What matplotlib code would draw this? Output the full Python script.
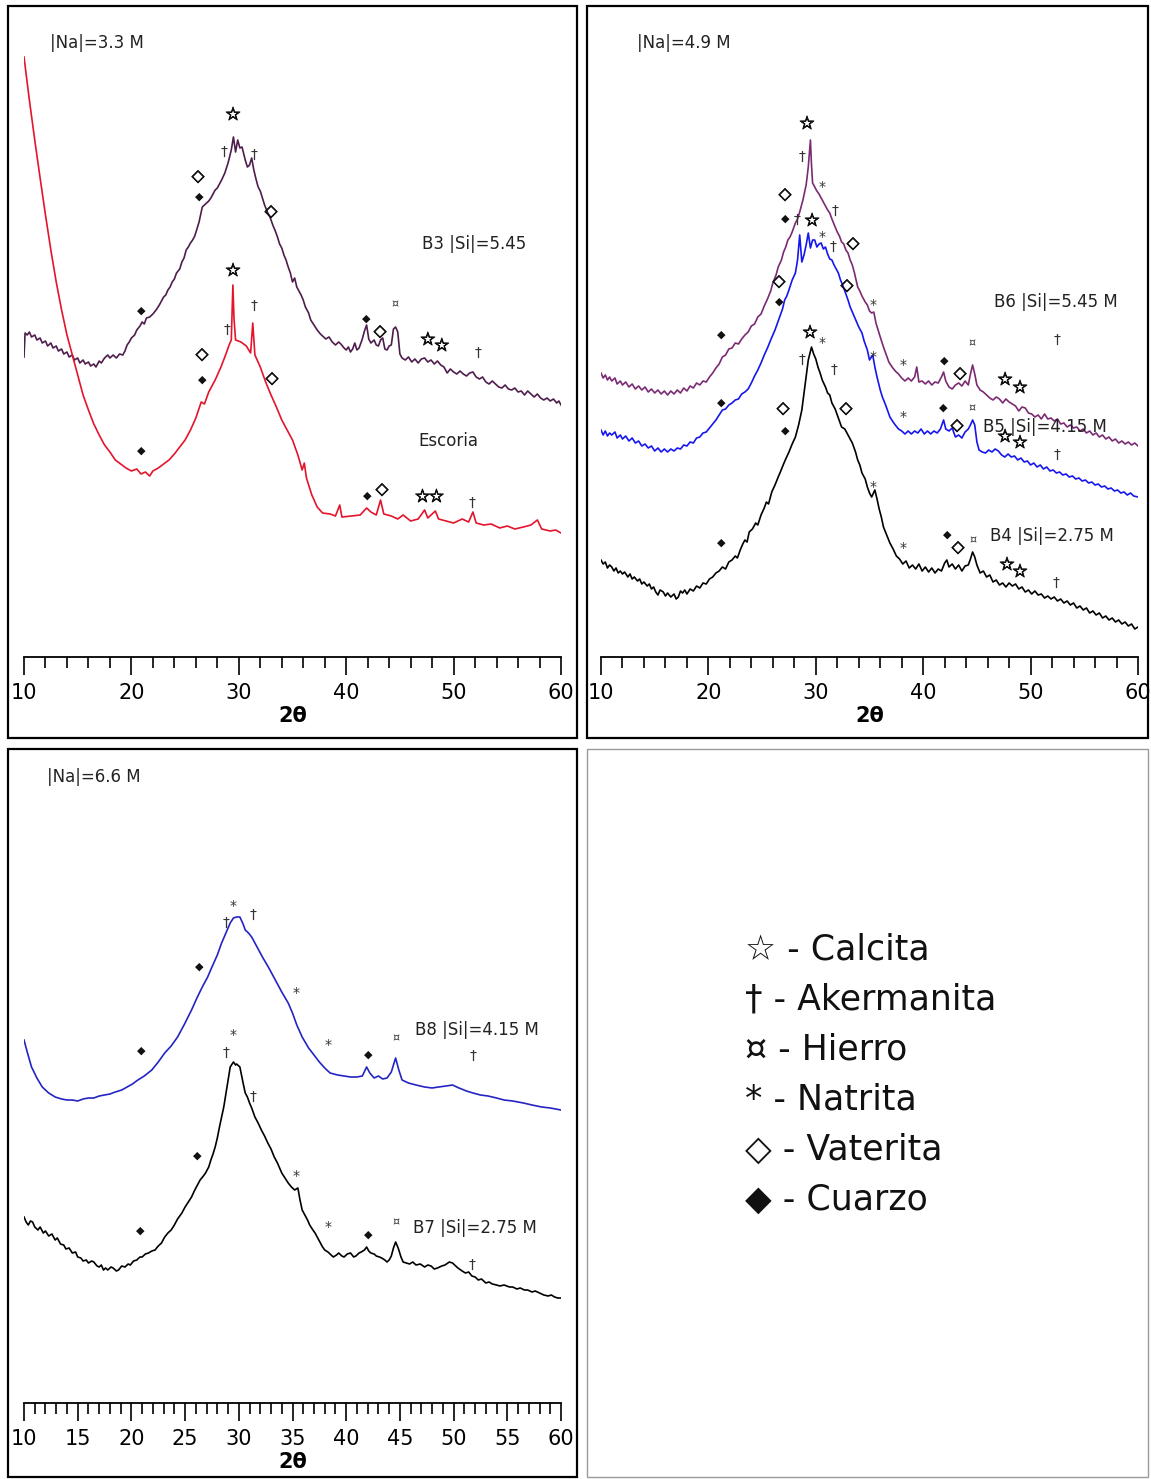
import matplotlib
matplotlib.use("Agg")
import matplotlib.pyplot as plt
import matplotlib.patheffects as pe
from matplotlib.patches import Rectangle
from matplotlib.ticker import MultipleLocator

plt.rcParams['font.family'] = ['DejaVu Sans']

# ---------------------------------------------------------------- data
# Diffractograms: (2-theta in degrees, intensity in arbitrary units)

# |Na| = 3.3 M panel
escoria = [(10, 600), (10.5, 557), (11, 517), (11.5, 479), (12, 442), (12.5, 407), (13, 375), (13.5, 347),
           (14, 322), (14.5, 302), (15, 282), (15.5, 262), (16, 247), (16.5, 233), (17, 222), (17.5, 212),
           (18, 205), (18.5, 197), (19, 193), (19.5, 189), (20, 186), (20.5, 188), (20.9, 183), (21.3, 185),
           (21.7, 181), (22.0, 186), (22.5, 189), (23, 193), (23.5, 197), (24, 203), (24.5, 210), (25, 217),
           (25.5, 227), (26, 239), (26.5, 255), (26.8, 253), (27.2, 265), (27.8, 277), (28.3, 289), (28.7, 300),
           (29.1, 312), (29.3, 317), (29.45, 372), (29.55, 339), (29.7, 317), (30.2, 315), (30.7, 311),
           (31.1, 304), (31.3, 334), (31.5, 302), (32, 290), (32.5, 275), (33, 262), (33.5, 250), (34, 237),
           (34.5, 227), (35, 217), (35.5, 202), (35.9, 187), (36.1, 194), (36.3, 179), (36.8, 162), (37.3, 150),
           (37.8, 144), (38.5, 143), (39.0, 141), (39.4, 152), (39.6, 140), (40.5, 141), (41.3, 142), (41.9, 149),
           (42.3, 145), (42.8, 142), (43.2, 157), (43.5, 143), (44.2, 141), (44.8, 138), (45.3, 142), (46, 136),
           (46.7, 138), (47.3, 147), (47.6, 139), (48.3, 146), (48.6, 138), (49.3, 136), (50, 134), (50.8, 138),
           (51.4, 135), (51.8, 145), (52.1, 134), (52.8, 132), (53.5, 133), (54.3, 129), (55, 131), (55.7, 128),
           (56.5, 130), (57.2, 132), (57.8, 137), (58.2, 128), (59, 126), (59.5, 127), (60, 124)]

b3 = [(10.0, 300), (10.1, 324), (10.3, 322), (10.5, 325), (10.7, 320), (11.0, 322), (11.2, 317), (11.5, 319),
      (11.7, 314), (12.0, 316), (12.2, 311), (12.5, 314), (12.7, 309), (13.0, 311), (13.2, 306), (13.5, 308),
      (13.7, 303), (14.0, 305), (14.2, 300), (14.5, 302), (14.7, 297), (15.0, 299), (15.2, 294), (15.5, 297),
      (15.7, 293), (16.0, 295), (16.2, 291), (16.5, 293), (16.7, 290), (17.0, 296), (17.2, 294), (17.5, 299),
      (17.8, 302), (18.0, 299), (18.3, 302), (18.6, 299), (18.9, 303), (19.2, 302), (19.4, 306), (19.6, 312),
      (19.8, 315), (20.0, 319), (20.3, 322), (20.5, 327), (20.8, 331), (21.0, 335), (21.2, 333), (21.4, 339),
      (21.7, 340), (22.0, 343), (22.3, 347), (22.6, 352), (22.8, 356), (23.0, 360), (23.2, 362), (23.4, 367),
      (23.6, 370), (23.8, 375), (24.0, 378), (24.2, 384), (24.5, 388), (24.7, 395), (24.9, 399), (25.1, 407),
      (25.3, 410), (25.5, 414), (25.7, 417), (25.9, 421), (26.1, 428), (26.3, 435), (26.5, 445), (26.6, 450),
      (26.8, 452), (27.0, 454), (27.2, 456), (27.4, 459), (27.6, 463), (27.8, 467), (28.0, 469), (28.2, 473),
      (28.4, 477), (28.7, 484), (29.0, 494), (29.3, 507), (29.5, 520), (29.7, 505), (29.9, 517), (30.1, 509),
      (30.3, 510), (30.6, 497), (30.8, 490), (31.0, 492), (31.2, 499), (31.4, 487), (31.6, 478), (31.8, 470),
      (32.0, 466), (32.2, 459), (32.4, 452), (32.7, 444), (32.9, 440), (33.2, 431), (33.4, 426), (33.6, 420),
      (33.8, 413), (34.0, 409), (34.2, 402), (34.4, 397), (34.6, 390), (34.8, 384), (35.0, 375), (35.2, 379),
      (35.4, 370), (35.6, 366), (35.8, 362), (36.0, 357), (36.2, 350), (36.5, 344), (36.7, 337), (37.0, 332),
      (37.3, 327), (37.6, 323), (37.8, 321), (38.1, 318), (38.4, 320), (38.7, 315), (39.0, 312), (39.3, 315),
      (39.5, 313), (39.8, 309), (40.0, 307), (40.2, 310), (40.4, 305), (40.6, 308), (40.8, 314), (41.0, 307),
      (41.2, 309), (41.5, 318), (41.7, 326), (41.9, 332), (42.1, 318), (42.3, 314), (42.6, 317), (42.8, 312),
      (43.0, 311), (43.2, 317), (43.4, 319), (43.6, 308), (43.8, 307), (44.0, 311), (44.2, 312), (44.4, 328),
      (44.6, 330), (44.8, 325), (45.0, 303), (45.2, 299), (45.5, 297), (45.8, 300), (46.1, 295), (46.4, 298),
      (46.7, 294), (47.0, 298), (47.3, 299), (47.6, 295), (47.9, 297), (48.2, 293), (48.5, 296), (48.8, 292),
      (49.1, 290), (49.4, 284), (49.7, 288), (50.0, 285), (50.3, 283), (50.6, 286), (50.9, 283), (51.2, 281),
      (51.5, 284), (51.8, 285), (52.1, 280), (52.4, 278), (52.7, 280), (53.0, 275), (53.3, 273), (53.6, 276),
      (53.9, 273), (54.2, 270), (54.5, 269), (54.8, 272), (55.1, 268), (55.4, 267), (55.7, 269), (56.0, 265),
      (56.3, 266), (56.6, 262), (56.9, 266), (57.2, 263), (57.5, 260), (57.8, 263), (58.1, 259), (58.4, 257),
      (58.7, 259), (59.0, 256), (59.3, 258), (59.6, 254), (59.8, 256), (60.0, 252)]

# |Na| = 4.9 M panel
b6 = [(10.0, 284), (10.2, 279), (10.4, 282), (10.6, 277), (10.8, 280), (11.0, 276), (11.3, 279), (11.5, 273),
      (11.8, 276), (12.0, 272), (12.3, 275), (12.6, 270), (12.9, 273), (13.2, 268), (13.5, 271), (13.8, 267),
      (14.1, 270), (14.4, 265), (14.7, 268), (15.0, 264), (15.3, 267), (15.6, 263), (15.9, 266), (16.2, 262),
      (16.5, 266), (16.8, 263), (17.1, 267), (17.4, 264), (17.7, 269), (18.0, 266), (18.3, 271), (18.6, 269),
      (18.9, 274), (19.2, 272), (19.5, 276), (19.8, 275), (20.1, 280), (20.4, 284), (20.7, 289), (21.0, 293),
      (21.3, 300), (21.6, 302), (21.9, 308), (22.2, 309), (22.5, 314), (22.8, 313), (23.1, 318), (23.4, 322),
      (23.7, 325), (24.0, 331), (24.3, 333), (24.6, 340), (24.9, 343), (25.2, 351), (25.5, 358), (25.8, 366),
      (26.0, 374), (26.3, 382), (26.5, 390), (26.8, 397), (27.0, 405), (27.2, 410), (27.4, 417), (27.6, 420),
      (27.8, 425), (28.1, 434), (28.3, 438), (28.5, 445), (28.8, 457), (29.1, 472), (29.3, 490), (29.5, 517),
      (29.6, 492), (29.7, 474), (29.9, 470), (30.1, 466), (30.3, 463), (30.5, 459), (30.7, 455), (30.9, 451),
      (31.1, 447), (31.3, 444), (31.5, 438), (31.8, 430), (32.0, 425), (32.2, 421), (32.4, 415), (32.6, 413),
      (32.8, 407), (33.0, 404), (33.2, 397), (33.4, 392), (33.6, 384), (33.9, 370), (34.1, 366), (34.3, 361),
      (34.6, 355), (34.8, 352), (35.0, 346), (35.2, 344), (35.4, 345), (35.6, 334), (35.8, 327), (36.0, 320),
      (36.3, 310), (36.6, 301), (36.8, 295), (37.1, 290), (37.4, 286), (37.7, 283), (38.0, 279), (38.3, 276),
      (38.6, 279), (38.9, 276), (39.2, 280), (39.4, 290), (39.6, 275), (39.9, 276), (40.2, 273), (40.5, 276),
      (40.8, 272), (41.1, 275), (41.4, 274), (41.7, 280), (41.9, 285), (42.1, 276), (42.4, 270), (42.7, 268),
      (43.0, 272), (43.3, 274), (43.6, 271), (43.9, 276), (44.2, 272), (44.4, 283), (44.6, 292), (44.8, 283),
      (45.0, 272), (45.3, 267), (45.6, 265), (45.9, 262), (46.2, 259), (46.5, 257), (46.8, 260), (47.1, 258),
      (47.4, 254), (47.7, 258), (48.0, 255), (48.3, 253), (48.6, 251), (48.9, 246), (49.2, 250), (49.5, 249),
      (49.8, 244), (50.1, 243), (50.4, 240), (50.7, 242), (51.0, 238), (51.3, 243), (51.6, 238), (51.9, 239),
      (52.2, 236), (52.5, 238), (52.8, 233), (53.1, 234), (53.4, 230), (53.7, 232), (54.0, 229), (54.3, 230),
      (54.6, 226), (54.9, 228), (55.2, 224), (55.5, 226), (55.8, 222), (56.1, 224), (56.4, 220), (56.7, 222),
      (57.0, 218), (57.3, 220), (57.6, 216), (57.9, 218), (58.2, 214), (58.5, 216), (58.8, 213), (59.1, 215),
      (59.4, 212), (59.7, 214), (60.0, 211)]

b5 = [(10.0, 227), (10.2, 222), (10.4, 226), (10.6, 221), (10.8, 224), (11.0, 222), (11.3, 225), (11.5, 219),
      (11.8, 222), (12.0, 218), (12.3, 221), (12.6, 216), (12.9, 219), (13.2, 214), (13.5, 216), (13.8, 211),
      (14.1, 213), (14.4, 209), (14.7, 211), (15.0, 206), (15.3, 209), (15.6, 205), (15.9, 208), (16.2, 205),
      (16.5, 208), (16.8, 206), (17.1, 209), (17.4, 208), (17.7, 212), (18.0, 211), (18.3, 215), (18.6, 214),
      (18.9, 219), (19.2, 220), (19.5, 224), (19.8, 225), (20.1, 229), (20.4, 233), (20.7, 237), (21.0, 242),
      (21.3, 247), (21.6, 248), (21.9, 252), (22.2, 254), (22.5, 257), (22.8, 258), (23.1, 263), (23.4, 265),
      (23.7, 268), (24.0, 274), (24.3, 281), (24.6, 287), (24.9, 294), (25.2, 302), (25.5, 309), (25.8, 317),
      (26.0, 322), (26.2, 327), (26.4, 333), (26.6, 339), (26.9, 348), (27.1, 357), (27.3, 361), (27.5, 367),
      (27.8, 377), (28.1, 384), (28.3, 397), (28.5, 422), (28.7, 395), (28.9, 402), (29.1, 412), (29.3, 424),
      (29.5, 409), (29.7, 417), (29.9, 417), (30.1, 410), (30.3, 413), (30.5, 414), (30.7, 408), (30.9, 410),
      (31.1, 403), (31.3, 398), (31.5, 397), (31.7, 392), (31.9, 388), (32.1, 384), (32.3, 377), (32.5, 372),
      (32.8, 363), (33.0, 357), (33.2, 350), (33.4, 345), (33.6, 340), (33.8, 335), (34.0, 330), (34.3, 324),
      (34.5, 316), (34.8, 307), (35.0, 297), (35.3, 302), (35.5, 290), (35.7, 280), (36.0, 267), (36.2, 260),
      (36.5, 252), (36.7, 246), (36.9, 240), (37.2, 235), (37.4, 232), (37.7, 228), (38.0, 226), (38.3, 223),
      (38.6, 226), (38.9, 223), (39.2, 226), (39.5, 224), (39.8, 228), (40.1, 223), (40.4, 226), (40.7, 223),
      (41.0, 226), (41.3, 224), (41.6, 228), (41.9, 237), (42.1, 228), (42.4, 226), (42.7, 229), (43.0, 220),
      (43.3, 222), (43.6, 219), (43.9, 225), (44.2, 228), (44.4, 232), (44.6, 237), (44.8, 232), (45.0, 215),
      (45.2, 207), (45.5, 205), (45.8, 204), (46.1, 207), (46.4, 205), (46.7, 208), (47.0, 206), (47.3, 202),
      (47.6, 200), (47.9, 203), (48.2, 200), (48.5, 201), (48.8, 197), (49.1, 199), (49.4, 195), (49.7, 196),
      (50.0, 192), (50.3, 194), (50.6, 190), (50.9, 192), (51.2, 188), (51.5, 190), (51.8, 186), (52.1, 187),
      (52.4, 184), (52.7, 185), (53.0, 182), (53.3, 183), (53.6, 180), (53.9, 181), (54.2, 178), (54.5, 179),
      (54.8, 176), (55.1, 177), (55.4, 174), (55.7, 175), (56.0, 172), (56.3, 173), (56.6, 170), (56.9, 171),
      (57.2, 168), (57.5, 169), (57.8, 166), (58.1, 167), (58.4, 164), (58.7, 165), (59.0, 162), (59.3, 164),
      (59.6, 161), (60.0, 160)]

b4 = [(10.0, 97), (10.2, 93), (10.4, 95), (10.6, 89), (10.8, 92), (11.0, 90), (11.2, 86), (11.4, 89), (11.6, 84),
      (11.8, 86), (12.0, 83), (12.2, 85), (12.5, 80), (12.7, 83), (12.9, 78), (13.1, 80), (13.4, 76), (13.6, 78),
      (13.8, 73), (14.0, 75), (14.3, 71), (14.5, 73), (14.7, 68), (14.9, 70), (15.1, 65), (15.3, 62), (15.5, 67),
      (15.8, 65), (16.0, 61), (16.2, 64), (16.5, 60), (16.8, 63), (17.0, 58), (17.2, 60), (17.4, 66), (17.6, 64),
      (17.8, 67), (18.0, 63), (18.3, 68), (18.6, 66), (18.9, 71), (19.2, 69), (19.5, 74), (19.8, 73), (20.1, 78),
      (20.4, 80), (20.7, 84), (21.0, 86), (21.3, 90), (21.6, 88), (21.9, 95), (22.2, 97), (22.5, 101), (22.7, 99),
      (23.0, 108), (23.2, 113), (23.4, 117), (23.6, 115), (23.8, 125), (24.1, 128), (24.4, 134), (24.6, 132),
      (24.9, 142), (25.2, 149), (25.4, 155), (25.6, 153), (25.9, 165), (26.2, 172), (26.5, 180), (26.7, 185),
      (27.0, 193), (27.2, 198), (27.5, 205), (27.8, 213), (28.1, 220), (28.4, 232), (28.7, 247), (29.0, 272),
      (29.3, 297), (29.6, 310), (29.8, 303), (30.0, 298), (30.2, 290), (30.4, 284), (30.6, 277), (30.9, 270),
      (31.1, 264), (31.3, 262), (31.5, 254), (31.8, 248), (32.0, 242), (32.2, 236), (32.4, 230), (32.7, 228),
      (32.9, 224), (33.2, 218), (33.4, 214), (33.7, 205), (33.9, 197), (34.1, 192), (34.3, 184), (34.6, 178),
      (34.8, 170), (35.0, 164), (35.2, 160), (35.5, 167), (35.7, 158), (35.9, 148), (36.1, 140), (36.3, 130),
      (36.6, 122), (36.9, 114), (37.2, 108), (37.5, 101), (37.8, 98), (38.1, 93), (38.4, 96), (38.7, 89),
      (39.0, 92), (39.3, 88), (39.6, 93), (39.9, 86), (40.2, 90), (40.5, 85), (40.8, 89), (41.1, 84), (41.4, 88),
      (41.7, 86), (42.0, 94), (42.2, 97), (42.4, 90), (42.7, 93), (43.0, 88), (43.3, 92), (43.6, 86), (43.9, 91),
      (44.2, 92), (44.4, 98), (44.6, 105), (44.8, 100), (45.0, 92), (45.3, 84), (45.6, 86), (45.9, 80), (46.2, 82),
      (46.5, 75), (46.8, 77), (47.1, 72), (47.4, 74), (47.7, 70), (48.0, 74), (48.3, 71), (48.6, 73), (48.9, 68),
      (49.2, 70), (49.5, 65), (49.8, 67), (50.1, 63), (50.4, 66), (50.7, 62), (51.0, 63), (51.3, 59), (51.6, 61),
      (51.9, 58), (52.2, 60), (52.5, 56), (52.8, 58), (53.1, 54), (53.4, 56), (53.7, 52), (54.0, 54), (54.3, 49),
      (54.6, 51), (54.9, 47), (55.2, 49), (55.5, 44), (55.8, 46), (56.1, 42), (56.4, 44), (56.7, 39), (57.0, 41),
      (57.3, 37), (57.6, 39), (57.9, 35), (58.2, 37), (58.5, 33), (58.8, 35), (59.1, 31), (59.4, 33), (59.7, 28),
      (60.0, 30)]

# |Na| = 6.6 M panel
b8 = [(10.0, 363), (10.3, 351), (10.7, 336), (11.2, 325), (11.7, 316), (12.3, 310), (12.9, 306), (13.5, 304),
      (14.0, 303), (14.5, 303), (15.0, 302), (15.5, 304), (16.0, 305), (16.5, 305), (17.0, 307), (17.5, 308),
      (18.0, 309), (18.5, 311), (19.1, 313), (19.6, 316), (20.1, 319), (20.6, 323), (21.2, 327), (21.9, 333),
      (22.5, 341), (23.1, 350), (23.7, 357), (24.3, 366), (24.9, 378), (25.6, 393), (26.1, 405), (26.6, 416),
      (27.1, 426), (27.5, 436), (28.0, 448), (28.4, 460), (28.8, 470), (29.2, 480), (29.5, 485), (29.8, 486),
      (30.1, 486), (30.4, 479), (30.6, 473), (30.9, 470), (31.2, 466), (31.7, 456), (32.2, 446), (32.8, 435),
      (33.4, 423), (34.0, 411), (34.6, 400), (35.0, 390), (35.4, 378), (35.9, 366), (36.5, 355), (37.0, 348),
      (37.5, 341), (38.0, 335), (38.5, 330), (39.2, 328), (39.8, 327), (40.4, 326), (41.0, 326), (41.5, 327),
      (41.9, 336), (42.2, 330), (42.6, 325), (43.0, 327), (43.4, 324), (43.8, 325), (44.2, 331), (44.6, 345),
      (44.9, 333), (45.2, 323), (45.8, 320), (46.5, 318), (47.3, 316), (48.0, 315), (48.6, 316), (49.3, 317),
      (49.9, 318), (50.5, 315), (51.2, 312), (51.8, 310), (52.5, 308), (53.2, 307), (54.0, 305), (54.7, 303),
      (55.5, 302), (56.5, 300), (57.3, 298), (58.2, 296), (59.0, 295), (60.0, 293)]

b7 = [(10.0, 186), (10.2, 181), (10.4, 178), (10.6, 182), (10.8, 181), (11.0, 176), (11.3, 173), (11.5, 176),
      (11.8, 170), (12.0, 172), (12.3, 167), (12.6, 169), (12.9, 163), (13.1, 165), (13.4, 159), (13.7, 158),
      (13.9, 154), (14.2, 155), (14.5, 150), (14.8, 151), (15.0, 146), (15.3, 145), (15.5, 142), (15.8, 143),
      (16.0, 140), (16.3, 142), (16.5, 141), (16.8, 137), (17.0, 136), (17.2, 138), (17.4, 133), (17.6, 135),
      (17.8, 133), (18.1, 136), (18.3, 135), (18.6, 132), (18.8, 133), (19.1, 137), (19.4, 136), (19.7, 139),
      (19.9, 138), (20.2, 142), (20.5, 143), (20.8, 146), (21.0, 146), (21.3, 149), (21.6, 150), (21.9, 152),
      (22.2, 153), (22.5, 157), (22.8, 160), (23.1, 166), (23.4, 170), (23.7, 173), (24.0, 178), (24.3, 184),
      (24.7, 190), (25.0, 196), (25.3, 201), (25.6, 206), (25.9, 213), (26.2, 219), (26.4, 223), (26.7, 227),
      (26.9, 230), (27.2, 236), (27.4, 243), (27.6, 249), (27.8, 256), (28.0, 265), (28.2, 276), (28.4, 286),
      (28.6, 296), (28.9, 316), (29.2, 336), (29.5, 341), (29.7, 338), (29.8, 339), (30.1, 336), (30.3, 325),
      (30.4, 320), (30.6, 310), (30.8, 306), (31.0, 300), (31.2, 295), (31.5, 286), (31.8, 280), (32.1, 273),
      (32.4, 267), (32.7, 260), (33.0, 254), (33.3, 246), (33.6, 240), (34.0, 230), (34.3, 225), (34.6, 220),
      (34.9, 216), (35.2, 213), (35.5, 215), (35.7, 203), (35.9, 193), (36.1, 189), (36.4, 183), (36.6, 178),
      (36.9, 173), (37.1, 170), (37.3, 166), (37.6, 160), (37.8, 156), (38.0, 153), (38.3, 151), (38.6, 148),
      (38.8, 146), (39.1, 148), (39.3, 150), (39.6, 147), (39.8, 146), (40.1, 149), (40.4, 150), (40.7, 146),
      (40.9, 147), (41.2, 150), (41.4, 151), (41.7, 153), (41.9, 156), (42.1, 152), (42.3, 150), (42.6, 149),
      (42.8, 147), (43.1, 146), (43.3, 145), (43.6, 143), (43.8, 141), (44.0, 143), (44.2, 147), (44.4, 155),
      (44.6, 161), (44.8, 156), (44.9, 153), (45.1, 146), (45.3, 141), (45.6, 140), (45.9, 139), (46.2, 141),
      (46.5, 138), (46.9, 139), (47.3, 136), (47.6, 138), (47.9, 137), (48.2, 134), (48.5, 135), (48.9, 137),
      (49.2, 138), (49.6, 141), (49.9, 140), (50.2, 137), (50.4, 135), (50.8, 132), (51.1, 130), (51.4, 131),
      (51.7, 127), (52.0, 126), (52.3, 123), (52.6, 124), (53.0, 120), (53.3, 121), (53.6, 119), (54.0, 118),
      (54.3, 117), (54.7, 118), (55.2, 116), (55.5, 116), (55.9, 114), (56.2, 115), (56.6, 113), (56.9, 113),
      (57.3, 111), (57.6, 112), (58.0, 110), (58.4, 108), (58.8, 107), (59.1, 108), (59.4, 106), (59.7, 105),
      (60.0, 105)]

# Phase identifications: (phase, 2-theta, height of the symbol)
phases_b3 = [("cal", 29.46, 542), ("ake", 28.62, 505), ("ake", 31.42, 502), ("vat", 26.2, 481),
             ("cua", 26.29, 460), ("vat", 33.0, 446), ("cua", 20.9, 346), ("cua", 41.84, 338),
             ("vat", 43.15, 326), ("hie", 44.54, 353), ("cal", 47.6, 317), ("cal", 48.9, 311),
             ("ake", 52.27, 304)]
phases_escoria = [("cal", 29.46, 386), ("ake", 31.42, 351), ("ake", 28.9, 327), ("vat", 26.57, 303),
                  ("cua", 26.57, 277), ("vat", 33.09, 279), ("cua", 20.9, 206), ("cua", 41.94, 161),
                  ("vat", 43.33, 168), ("cal", 47.1, 160), ("cal", 48.4, 160), ("ake", 51.71, 154)]
phases_b6 = [("cal", 29.18, 533), ("ake", 28.71, 500), ("nat", 30.58, 470), ("vat", 27.13, 463),
             ("cua", 27.13, 438), ("ake", 31.79, 446), ("vat", 33.46, 414), ("nat", 35.33, 352),
             ("cua", 21.17, 322), ("nat", 38.12, 292), ("cua", 41.94, 296), ("vat", 43.43, 284),
             ("hie", 44.54, 314), ("cal", 47.62, 277), ("cal", 49.01, 269), ("ake", 52.46, 317)]
phases_b5 = [("cal", 29.65, 436), ("ake", 28.25, 437), ("nat", 30.58, 420), ("ake", 31.6, 410),
             ("vat", 26.57, 376), ("cua", 26.57, 355), ("vat", 32.9, 372), ("nat", 35.33, 300),
             ("cua", 21.17, 254), ("nat", 38.12, 240), ("cua", 41.84, 249), ("vat", 43.15, 232),
             ("hie", 44.54, 249), ("cal", 47.62, 220), ("cal", 49.01, 214), ("ake", 52.46, 202)]
phases_b4 = [("cal", 29.46, 324), ("nat", 30.58, 314), ("ake", 28.71, 297), ("ake", 31.69, 287),
             ("vat", 26.95, 249), ("vat", 32.81, 249), ("cua", 27.13, 226), ("nat", 35.33, 170),
             ("cua", 21.17, 114), ("nat", 38.12, 109), ("cua", 42.22, 122), ("vat", 43.24, 110),
             ("hie", 44.64, 117), ("cal", 47.8, 92), ("cal", 49.01, 85), ("ake", 52.37, 74)]
phases_b8 = [("nat", 29.46, 497), ("ake", 28.81, 480), ("ake", 31.32, 488), ("cua", 26.29, 436),
             ("nat", 35.33, 410), ("cua", 20.89, 352), ("nat", 38.31, 358), ("cua", 42.03, 348),
             ("hie", 44.64, 365), ("ake", 51.81, 347)]
phases_b7 = [("nat", 29.46, 368), ("ake", 28.81, 350), ("ake", 31.32, 306), ("cua", 26.11, 247),
             ("nat", 35.33, 227), ("cua", 20.8, 172), ("nat", 38.31, 176), ("cua", 42.03, 168),
             ("hie", 44.64, 181), ("ake", 51.71, 138)]

legend_phases = ["cal", "ake", "hie", "nat", "vat", "cua"]
legend_names = ["Calcita", "Akermanita", "Hierro", "Natrita", "Vaterita", "Cuarzo"]

# ---------------------------------------------------------------- styles
SYMBOL = {"cal": "\u2606", "ake": "\u2020", "hie": "\u00a4", "nat": "*", "vat": "\u25c7", "cua": "\u25c6"}
SYM_SIZE = {"cal": 13, "ake": 10, "hie": 8, "nat": 10, "vat": 12, "cua": 8}
SYM_STROKE = {"cal": 0.7, "ake": 0.0, "hie": 0.0, "nat": 0.0, "vat": 0.5, "cua": 0.0}
SYM_COLOR = {"cal": "#111111", "ake": "#333333", "hie": "#333333", "nat": "#333333",
             "vat": "#111111", "cua": "#111111"}

W, H = 1151, 1479
fig = plt.figure(figsize=(W / 100, H / 100), dpi=100)
fig.patch.set_facecolor("white")


def frac_box(x0, y0, x1, y1):
    return [x0 / W, 1 - y1 / H, (x1 - x0) / W, (y1 - y0) / H]


def panel_frame(x0, y0, x1, y1, color="black", lw=1.6):
    fig.patches.append(Rectangle((x0 / W, 1 - y1 / H), (x1 - x0) / W, (y1 - y0) / H,
                                 transform=fig.transFigure, fill=False, edgecolor=color,
                                 linewidth=lw, zorder=0))


def xrd_axes(box, ymax, major, minor):
    ax = fig.add_axes(frac_box(*box))
    ax.set_xlim(10, 60)
    ax.set_ylim(0, ymax)
    for side in ("top", "left", "right"):
        ax.spines[side].set_visible(False)
    ax.spines["bottom"].set_linewidth(1.3)
    ax.set_yticks([])
    ax.xaxis.set_major_locator(MultipleLocator(major))
    ax.xaxis.set_minor_locator(MultipleLocator(minor))
    ax.tick_params(axis="x", which="major", direction="out", length=13, width=1.2,
                   labelsize=15, pad=6, colors="black")
    ax.tick_params(axis="x", which="minor", direction="out", length=8, width=1.2)
    ax.set_xlabel("2\u03b8", fontsize=15, fontweight="bold", labelpad=2)
    ax.patch.set_alpha(0)
    return ax


def plot_pattern(ax, pattern, color):
    tt, counts = zip(*pattern)
    ax.plot(tt, counts, color=color, lw=1.2)


def label_phases(ax, phases):
    for phase, tt, h in phases:
        t = ax.text(tt, h, SYMBOL[phase], fontsize=SYM_SIZE[phase], color=SYM_COLOR[phase],
                    ha="center", va="center", zorder=5)
        if SYM_STROKE[phase] > 0:
            t.set_path_effects([pe.withStroke(linewidth=SYM_STROKE[phase], foreground=SYM_COLOR[phase])])


# panel frames
panel_frame(8, 6, 577, 738)
panel_frame(587, 6, 1148, 738)
panel_frame(8, 749, 577, 1477)
panel_frame(587, 749, 1148, 1477, color="#9a9a9a", lw=1.0)

# |Na| = 3.3 M
ax1 = xrd_axes((24, 8, 561, 657), 649, 10, 2)
plot_pattern(ax1, b3, "#4e1d4c")
plot_pattern(ax1, escoria, "#e3142c")
label_phases(ax1, phases_b3)
label_phases(ax1, phases_escoria)
ax1.text(12.42, 614, "|Na|=3.3 M", fontsize=12, va="center", color="#222222")
ax1.text(47.06, 413, "B3 |Si|=5.45", fontsize=12, va="center", color="#222222")
ax1.text(46.69, 216, "Escoria", fontsize=12, va="center", color="#222222")

# |Na| = 4.9 M
ax2 = xrd_axes((601, 8, 1138, 657), 649, 10, 2)
plot_pattern(ax2, b6, "#7b2a73")
plot_pattern(ax2, b5, "#1616ee")
plot_pattern(ax2, b4, "black")
label_phases(ax2, phases_b6)
label_phases(ax2, phases_b5)
label_phases(ax2, phases_b4)
ax2.text(13.35, 614, "|Na|=4.9 M", fontsize=12, va="center", color="#222222")
ax2.text(46.6, 355, "B6 |Si|=5.45 M", fontsize=12, va="center", color="#222222", zorder=6)
ax2.text(45.57, 230, "B5 |Si|=4.15 M", fontsize=12, va="center", color="#222222", zorder=6)
ax2.text(46.22, 121, "B4 |Si|=2.75 M", fontsize=12, va="center", color="#222222", zorder=6)

# |Na| = 6.6 M
ax3 = xrd_axes((24, 751, 561, 1403), 652, 5, 1)
plot_pattern(ax3, b8, "#2424c4")
plot_pattern(ax3, b7, "black")
label_phases(ax3, phases_b8)
label_phases(ax3, phases_b7)
ax3.text(12.14, 626, "|Na|=6.6 M", fontsize=12, va="center", color="#222222")
ax3.text(46.4, 373, "B8 |Si|=4.15 M", fontsize=12, va="center", color="#222222")
ax3.text(46.22, 175, "B7 |Si|=2.75 M", fontsize=12, va="center", color="#222222")

# legend panel
ax4 = fig.add_axes(frac_box(587, 749, 1148, 1477))
ax4.set_xlim(587, 1148)
ax4.set_ylim(1477, 749)
ax4.axis("off")
for i, (phase, name) in enumerate(zip(legend_phases, legend_names)):
    ax4.text(745, 950 + 50 * i, SYMBOL[phase] + " - " + name, fontsize=25,
             va="center", ha="left", color="#111111")

fig.savefig("out.png", dpi=100)
